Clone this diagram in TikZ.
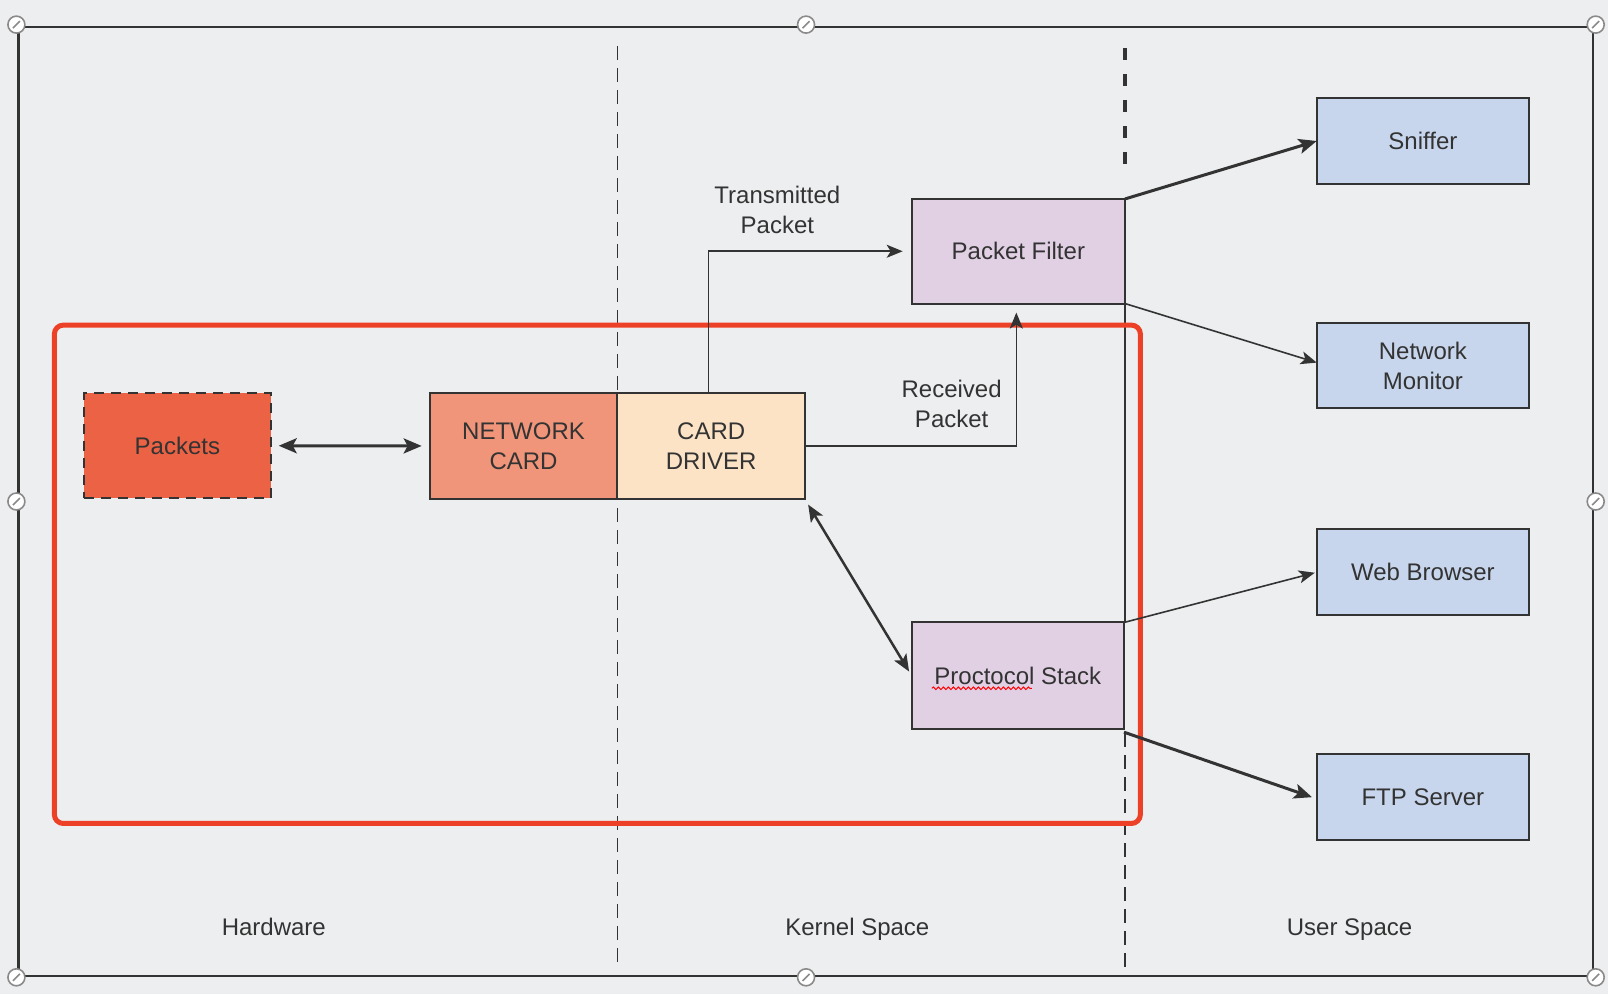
\documentclass[tikz,border=0pt]{standalone}
\usepackage{fontspec}
\setmainfont{Liberation Sans}
\usetikzlibrary{arrows.meta,decorations.pathmorphing}
\definecolor{bgcol}{HTML}{EDEEF0}
\definecolor{ink}{HTML}{333333}
\definecolor{redbox}{HTML}{EC4127}
\definecolor{pktfill}{HTML}{EB6244}
\definecolor{nicfill}{HTML}{F0957A}
\definecolor{drvfill}{HTML}{FCE3C6}
\definecolor{purfill}{HTML}{E1CFE4}
\definecolor{bluefill}{HTML}{C7D6EC}
\definecolor{handlecol}{HTML}{8A8A8A}
\begin{document}
\begin{tikzpicture}[x=1.02551pt,y=-1.02551pt,
  every node/.style={font=\fontsize{24}{30}\selectfont, text=ink},
  box/.style={draw=ink, line width=2pt, inner sep=0pt, outer sep=0pt, align=center},
  thinarrow/.style={draw=ink, line width=1.6pt, -{Stealth[length=16pt,width=13pt,inset=4pt]}},
  thickarrow/.style={draw=ink, line width=3pt, -{Stealth[length=18pt,width=15pt,inset=4pt]}},
  lbl/.style={align=center, inner sep=0pt},
  handle/.style={circle, draw=handlecol, fill=white, line width=1.6pt, minimum size=17pt, inner sep=0pt,
    path picture={\draw[handlecol, line width=1.6pt] ([shift={(-3.5pt,-3.5pt)}]path picture bounding box.center) -- ([shift={(3.5pt,3.5pt)}]path picture bounding box.center);}}
]
\useasboundingbox (0,0) rectangle (1568,969.3);
\fill[bgcol] (0,0) rectangle (1568,969.3);

% frame
\draw[ink, line width=2.2pt] (18,26) rectangle (1553,952);
\draw[ink, line width=3.2pt] (18,26) -- (18,952);

% separators
\draw[ink, line width=1.5pt, dash pattern=on 14pt off 8pt] (602,45) -- (602,940);
\draw[ink, line width=4pt, dash pattern=on 12pt off 14pt] (1097,47) -- (1097,172);
\draw[ink, line width=1.5pt] (1097,296) -- (1097,607);
\draw[ink, line width=1.5pt, dash pattern=on 14pt off 8pt] (1097,715) -- (1097,945);

% red region
\draw[redbox, line width=5pt, rounded corners=9pt] (53,317) rectangle (1112,803);

% nodes
\node[box, fill=pktfill, dashed, dash pattern=on 10pt off 7pt, minimum width=186.6pt, minimum height=105.6pt] (packets) at (173,434.5) {Packets};
\node[box, fill=nicfill, minimum width=187.7pt, minimum height=106.7pt] (nic) at (510.5,435) {NETWORK\\CARD};
\node[box, fill=drvfill, minimum width=187.7pt, minimum height=106.7pt] (drv) at (693.5,435) {CARD\\DRIVER};
\node[box, fill=purfill, minimum width=213.3pt, minimum height=104.6pt] (pf) at (993,245) {Packet Filter};
\node[box, fill=purfill, minimum width=212.3pt, minimum height=106.7pt] (ps) at (992.5,659) {Proctocol Stack};
\node[box, fill=bluefill, minimum width=212.3pt, minimum height=85.1pt] (sn) at (1387.5,137.5) {Sniffer};
\node[box, fill=bluefill, minimum width=212.3pt, minimum height=85.1pt] (nm) at (1387.5,356.5) {Network\\Monitor};
\node[box, fill=bluefill, minimum width=212.3pt, minimum height=86.1pt] (wb) at (1387.5,558) {Web Browser};
\node[box, fill=bluefill, minimum width=212.3pt, minimum height=86.1pt] (ftp) at (1387.5,777) {FTP Server};

% spell-check underline
\draw[red, line width=1pt, decorate, decoration={snake, amplitude=1.3pt, segment length=5pt}]
  ([xshift=-86pt,yshift=-12.5pt]ps.center) -- ([xshift=14pt,yshift=-12.5pt]ps.center);

% labels
\node[lbl] (tx) at (758,205) {Transmitted\\Packet};
\node[lbl] (rx) at (928,394) {Received\\Packet};
\node[lbl, anchor=base] (hw) at (267,912) {Hardware};
\node[lbl, anchor=base] (ks) at (836,912) {Kernel Space};
\node[lbl, anchor=base] (us) at (1316,912) {User Space};

% connectors
\draw[thickarrow, {Stealth[length=18pt,width=15pt,inset=4pt]}-{Stealth[length=18pt,width=15pt,inset=4pt]}, shorten <=8pt, shorten >=8pt] (packets) -- (nic);
\draw[thinarrow, shorten >=9pt] ([xshift=-2.5pt]drv.north) |- (pf.west);
\draw[thinarrow, shorten >=9pt] (drv.east) -| ([xshift=-2pt]pf.south);
\draw[ink, line width=2.5pt, {Stealth[length=17pt,width=14pt,inset=4pt]}-{Stealth[length=17pt,width=14pt,inset=4pt]}, shorten <=6pt, shorten >=5pt] (drv.south east) -- (ps.west);
\draw[thickarrow] (pf.north east) -- (sn.west);
\draw[thinarrow] (pf.south east) -- ([yshift=3pt]nm.west);
\draw[thinarrow, shorten >=2pt] (ps.north east) -- (wb.west);
\draw[thickarrow, shorten >=5pt] ([yshift=-3pt]ps.south east) -- ([yshift=-2pt]ftp.west);

% selection handles
\node[handle] (h1) at (16,24) {};
\node[handle] (h2) at (786,24) {};
\node[handle] (h3) at (1556,24) {};
\node[handle] (h4) at (16,489) {};
\node[handle] (h5) at (1556,489) {};
\node[handle] (h6) at (16,953) {};
\node[handle] (h7) at (786,953) {};
\node[handle] (h8) at (1556,953) {};
\end{tikzpicture}
\end{document}
